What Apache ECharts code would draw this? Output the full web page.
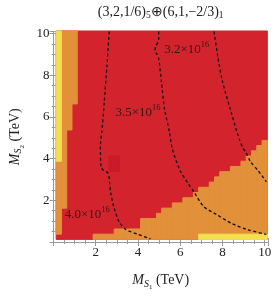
<!DOCTYPE html>
<html><head><meta charset="utf-8">
<script src="https://cdn.jsdelivr.net/npm/echarts@6/dist/echarts.min.js"></script>
<style>html,body{margin:0;padding:0;background:#fff}#c{width:274px;height:296px}</style>
</head><body><div id="c"></div>
<script>
// ---- data (units: TeV) ----
const tickValues = [2, 4, 6, 8, 10];
// region classes: 0 red, 1 orange, 2 yellow, 3 dark red
const fullGrid = [0.125, 10.125, 0.125, 10.125];
const leftBandX = [0.25, 0.5, 0.75, 1.0];
const leftOrangeFrom = [0.375, 1.625, 5.375, 6.625];
const leftOrangeTo = [3.875, 10.125, 10.125, 10.125];
const leftYellowX = [0.25];
const leftYellowFrom = [3.875];
const stairX = [2.0,2.25,2.5,2.75,3.0,3.25,3.5,3.75,4.0,4.25,4.5,4.75,5.0,5.25,5.5,5.75,6.0,6.25,6.5,6.75,7.0,7.25,7.5,7.75,8.0,8.25,8.5,8.75,9.0,9.25,9.5,9.75,10.0];
const stairTop = [0.375,0.375,0.375,0.375,0.625,0.625,0.625,0.625,0.625,1.125,1.125,1.125,1.375,1.625,1.625,1.875,1.875,2.125,2.125,2.375,2.625,2.625,2.875,3.125,3.375,3.375,3.625,3.625,3.875,4.125,4.375,4.625,4.875];
const bottomYellow = [6.875, 10.125, 0.125, 0.375];
const darkBlock = [2.625, 3.125, 3.375, 4.125];

const contourA = [[2.64,10.1],[2.53,8.44],[2.4,6.67],[2.29,5.3],[2.22,4.6],[2.25,3.6],[2.35,3.45],[2.59,3.3],[2.66,2.8],[2.72,2.3],[2.85,1.7],[3.11,0.96],[3.44,0.59],[4.0,0.37],[4.59,0.15]];
const contourB = [[4.98,10.1],[4.98,9.7],[4.85,9.4],[4.8,9.2],[4.9,9.0],[4.98,8.8],[5.11,7.7],[5.26,6.37],[5.48,5.33],[5.63,4.44],[6.0,3.41],[6.37,2.81],[6.67,2.37],[7.11,1.70],[7.7,1.33],[8.44,0.89],[9.19,0.59],[10.08,0.37]];
const contourC = [[7.6,10.1],[7.78,8.89],[8.0,7.7],[8.37,6.37],[8.67,5.33],[8.81,4.89],[8.96,4.52],[9.11,4.3],[9.33,3.85],[9.7,3.41],[10.08,2.89]];
const contourLabelPos = [[6.31,9.24],[4.0,6.22],[1.6,1.33]];
const contourLabelMant = ['3.2', '3.5', '4.0'];
const contourLabelExp = ['16', '16', '16'];

// ---- build ----
const palette = ['#d3242d', '#e2903a', '#f4df4e', '#c81c2b'];
const rects = [];
rects.push(fullGrid.concat([0]));
leftBandX.forEach((x, i) => rects.push([x - 0.125, x + 0.125, leftOrangeFrom[i], leftOrangeTo[i], 1]));
leftYellowX.forEach((x, i) => rects.push([x - 0.125, x + 0.125, leftYellowFrom[i], 10.125, 2]));
stairX.forEach((x, i) => rects.push([x - 0.125, x + 0.125, 0.125, stairTop[i], 1]));
rects.push(bottomYellow.concat([2]));
rects.push(darkBlock.concat([3]));

const serif = 'Liberation Serif';
const frameColor = '#9a9a9a';
function axisCommon(showLabels) {
  return {
    type: 'value', min: 0, interval: 2,
    axisLine: {show: true, lineStyle: {color: frameColor, width: 1}},
    axisTick: {show: true, inside: true, length: 4, lineStyle: {color: frameColor}},
    minorTick: {show: true, splitNumber: 4, length: 2, lineStyle: {color: frameColor}},
    splitLine: {show: false},
    axisLabel: {show: showLabels, fontFamily: serif, fontSize: 13, color: '#222', margin: 4,
      formatter: v => tickValues.indexOf(v) >= 0 ? String(v) : ''}
  };
}
const nameRich = {
  i: {fontFamily: serif, fontStyle: 'italic', fontSize: 14, color: '#222'},
  s: {fontFamily: serif, fontStyle: 'italic', fontSize: 10, color: '#222', padding: [7, 0, 0, 0]},
  ss: {fontFamily: serif, fontSize: 7, color: '#222', padding: [14, 0, 0, 0]},
  t: {fontFamily: serif, fontSize: 14, color: '#222'}
};
const chart = echarts.init(document.getElementById('c'), null, {renderer: 'canvas'});
chart.setOption({
  animation: false,
  backgroundColor: '#fff',
  grid: {left: 40, right: 5.5, top: 23, bottom: 46},
  xAxis: [
    Object.assign(axisCommon(true), {position: 'bottom', max: 10.15,
      name: '{i|M}{s|S}{ss|1}{t| (TeV)}', nameLocation: 'middle', nameGap: 28,
      nameTextStyle: {rich: nameRich}}),
    Object.assign(axisCommon(false), {position: 'top', max: 10.15,
      name: '{t|(3,2,1/6)}{b|5}{t|⊕(6,1,−2/3)}{b|1}', nameLocation: 'middle', nameGap: 11,
      nameTextStyle: {rich: {
        t: {fontFamily: serif, fontSize: 14, color: '#222'},
        b: {fontFamily: serif, fontSize: 9.5, color: '#222', padding: [7, 0, 0, 0]}
      }}})
  ],
  yAxis: [
    Object.assign(axisCommon(true), {position: 'left', max: 10.1,
      name: '{i|M}{s|S}{ss|2}{t| (TeV)}', nameLocation: 'middle', nameGap: 28, nameRotate: 90,
      nameTextStyle: {rich: nameRich}}),
    Object.assign(axisCommon(false), {position: 'right', max: 10.1})
  ],
  series: [
    {
      type: 'custom', xAxisIndex: 0, yAxisIndex: 0, silent: true, z: 1,
      encode: {x: [0, 1], y: [2, 3]},
      data: rects,
      renderItem: function (params, api) {
        const p0 = api.coord([api.value(0), api.value(3)]);
        const p1 = api.coord([api.value(1), api.value(2)]);
        const c = palette[api.value(4)];
        return {type: 'rect', shape: {x: p0[0], y: p0[1], width: p1[0] - p0[0], height: p1[1] - p0[1]},
          style: {fill: c, stroke: c, lineWidth: 1}};
      }
    },
    ...[contourA, contourB, contourC].map(d => ({
      type: 'line', data: d, showSymbol: false, smooth: 0.25, silent: true, z: 3,
      lineStyle: {color: '#111', width: 1.3, type: [3, 2.5]}
    })),
    {
      type: 'scatter', symbolSize: 0, silent: true, z: 4,
      data: contourLabelPos.map((p, i) => [p[0], p[1], contourLabelMant[i], contourLabelExp[i]]),
      label: {show: true, position: 'inside',
        formatter: p => '{m|' + p.data[2] + '×10}{e|' + p.data[3] + '}',
        rich: {
          m: {fontFamily: serif, fontSize: 13, color: '#111'},
          e: {fontFamily: serif, fontSize: 8.5, color: '#111', padding: [0, 0, 9, 0]}
        }}
    }
  ]
});
</script></body></html>
